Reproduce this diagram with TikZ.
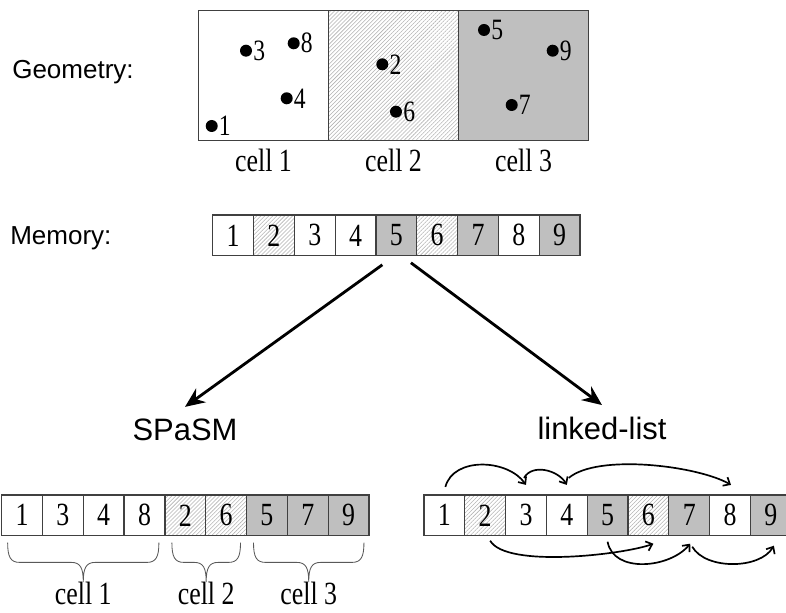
\documentclass[tikz,border=0pt]{standalone}
\usepackage{fontspec}
\setmainfont{Liberation Serif}[FakeStretch=0.8]
\newfontfamily\headfont{Liberation Sans}
\usetikzlibrary{positioning,calc,arrows.meta,patterns.meta}

\begin{document}
\begin{tikzpicture}[x=0.025cm, y=0.025cm,
						box/.style={rectangle, draw=black!75, line width=0.9pt, inner sep=0pt, outer sep=0pt},
						hatch/.style={pattern={Lines[angle=45,distance=2pt,line width=0.4pt]}, pattern color=black!30},
						geo/.style={box, minimum size=3.25cm},
						mem/.style={box, minimum width=1.02cm, minimum height=1.02cm, font=\fontsize{23}{26}\selectfont},
						wcell/.style={mem, fill=white},
						hcell/.style={mem, hatch},
						gcell/.style={mem, fill=black!25},
						dotnum/.style={font=\fontsize{21}{24}\selectfont, inner sep=0.5pt},
						dot/.style={circle, fill=black, minimum size=3mm, inner sep=0pt, label={[dotnum]right:#1}},
						celltext/.style={font=\fontsize{23}{26}\selectfont, inner sep=0pt},
						head/.style={font=\headfont\fontsize{18.5}{22}\selectfont, inner sep=0pt, anchor=base west},
						title/.style={font=\headfont\fontsize{22}{26}\selectfont, inner sep=8pt, anchor=base},
						bigarrow/.style={line width=2pt, -{Stealth[length=14pt,width=12pt]}},
						link/.style={line width=1.2pt, -{Straight Barb[length=4pt,width=7pt]}},
						cellbrace/.style={draw=black!65, line width=0.6pt, to path={
							let \p1=(\tikztostart), \p2=(\tikztotarget), \p3=($(\tikztostart)!0.5!(\tikztotarget)$) in
							.. controls (\x1,\y1-10pt) and (\x1+2pt,\y1-14pt) .. (\x1+8.5pt,\y1-14pt)
							-- (\x3-8.5pt,\y1-14pt)
							.. controls (\x3-2pt,\y1-14pt) and (\x3,\y1-18pt) .. (\x3,\y1-28pt)
							.. controls (\x3,\y1-18pt) and (\x3+2pt,\y1-14pt) .. (\x3+8.5pt,\y1-14pt)
							-- (\x2-8.5pt,\y1-14pt)
							.. controls (\x2-2pt,\y1-14pt) and (\x2,\y1-10pt) .. (\x2,\y1)}}
					]
					\useasboundingbox (0,0) rectangle (786,612);
					% geometry
					\node[head] (geometry) at (12,533.7) {Geometry:};
					\node[geo, fill=white] (g1) at (263.5,536.3) {};
					\node[geo, hatch] (g2) [right=0pt of g1] {};
					\node[geo, fill=black!25] (g3) [right=0pt of g2] {};
					\node[celltext] (g1label) [below=6pt of g1] {cell 1};
					\node[celltext] (g2label) [below=6pt of g2] {cell 2};
					\node[celltext] (g3label) [below=6pt of g3] {cell 3};
					\node[dot=1] (d1) at (211.7,486) {};
					\node[dot=3] (d3) at (246,561.3) {};
					\node[dot=8] (d8) at (293.7,568.7) {};
					\node[dot=4] (d4) at (286.7,513.7) {};
					\node[dot=2] (d2) at (382.3,547.7) {};
					\node[dot=6] (d6) at (396,500.3) {};
					\node[dot=5] (d5) at (484,582) {};
					\node[dot=9] (d9) at (552.7,561.3) {};
					\node[dot=7] (d7) at (511.7,507) {};
					% memory
					\node[head] (memory) at (10,367) {Memory:};
					\node[wcell] (m1) at (233.1,376.6) {1};
					\node[hcell] (m2) [right=0pt of m1] {2};
					\node[wcell] (m3) [right=0pt of m2] {3};
					\node[wcell] (m4) [right=0pt of m3] {4};
					\node[gcell] (m5) [right=0pt of m4] {5};
					\node[hcell] (m6) [right=0pt of m5] {6};
					\node[gcell] (m7) [right=0pt of m6] {7};
					\node[wcell] (m8) [right=0pt of m7] {8};
					\node[gcell] (m9) [right=0pt of m8] {9};
					\node[title] (spasm) at (185,172) {SPaSM};
					\node[title] (linked) at (602,173) {linked-list};
					\draw[bigarrow] ($(m5.south)+(-14,-9)$) -- (spasm.north);
					\draw[bigarrow] ($(m5.south)+(14.6,-7)$) -- (linked.north);
					% SPaSM ordering
					\node[wcell] (s1) at (22.05,96.7) {1};
					\node[wcell] (s2) [right=0pt of s1] {3};
					\node[wcell] (s3) [right=0pt of s2] {4};
					\node[wcell] (s4) [right=0pt of s3] {8};
					\node[hcell] (s5) [right=0pt of s4] {2};
					\node[hcell] (s6) [right=0pt of s5] {6};
					\node[gcell] (s7) [right=0pt of s6] {5};
					\node[gcell] (s8) [right=0pt of s7] {7};
					\node[gcell] (s9) [right=0pt of s8] {9};
					\coordinate (b1l) at ($(s1.south west)+(6,-7)$);
					\coordinate (b1r) at ($(s4.south east)+(-6,-7)$);
					\coordinate (b2l) at ($(s5.south west)+(7,-7)$);
					\coordinate (b2r) at ($(s6.south east)+(-6,-7)$);
					\coordinate (b3l) at ($(s7.south west)+(7,-7)$);
					\coordinate (b3r) at ($(s9.south east)+(-5,-7)$);
					\draw[cellbrace] (b1l) to (b1r);
					\draw[cellbrace] (b2l) to (b2r);
					\draw[cellbrace] (b3l) to (b3r);
					\node[celltext] (s1label) at ($(b1l)!0.5!(b1r)+(0,-51)$) {cell 1};
					\node[celltext] (s2label) at ($(b2l)!0.5!(b2r)+(0,-51)$) {cell 2};
					\node[celltext] (s3label) at ($(b3l)!0.5!(b3r)+(0,-51)$) {cell 3};
					% linked list
					\node[wcell] (l1) at (444.35,96.7) {1};
					\node[hcell] (l2) [right=0pt of l1] {2};
					\node[wcell] (l3) [right=0pt of l2] {3};
					\node[wcell] (l4) [right=0pt of l3] {4};
					\node[gcell] (l5) [right=0pt of l4] {5};
					\node[hcell] (l6) [right=0pt of l5] {6};
					\node[gcell] (l7) [right=0pt of l6] {7};
					\node[wcell] (l8) [right=0pt of l7] {8};
					\node[gcell] (l9) [right=0pt of l8] {9};
					\draw[link] ($(l1.north)+(1,8)$) to[out=75, in=125] ($(l3.north)+(0,10)$);
					\draw[link] ($(l3.north)+(-2,17)$) to[out=60, in=120] ($(l4.north)+(0,10)$);
					\draw[link] ($(l4.north)+(2,17)$) to[out=40, in=150, looseness=0.6] ($(l8.north)+(1,10)$);
					\draw[link] ($(l2.south)+(5,-5)$) to[out=-60, in=-160, looseness=0.5] ($(l6.south)+(5,-8)$);
					\draw[link] ($(l5.south)+(0,-6)$) to[out=-80, in=-130] ($(l7.south)+(1,-8)$);
					\draw[link] ($(l7.south)+(3,-11)$) to[out=-60, in=-120, looseness=0.85] ($(l9.south)+(3,-10)$);
					\end{tikzpicture}
\end{document}
